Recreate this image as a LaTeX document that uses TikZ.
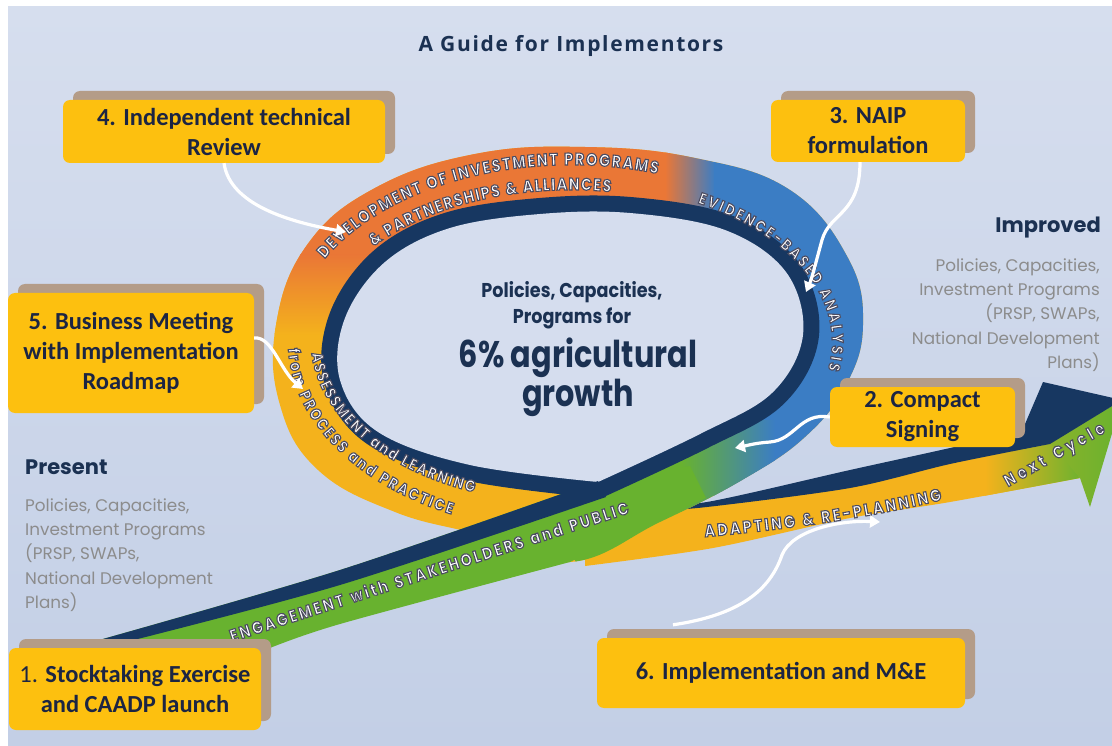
\documentclass[tikz,border=0pt]{standalone}
\usepackage{fontspec}
\usetikzlibrary{decorations.text,arrows.meta,shadows,calc}
\newfontfamily\boxfont{Carlito}
\newfontfamily\popfont{Poppins}
\newfontfamily\ctrA{Poppins}[FakeStretch=0.88]
\newfontfamily\ctrB{Poppins}[FakeStretch=0.82]
\newfontfamily\ringfam{Poppins}[FakeStretch=0.85]
\newfontfamily\titlefont{Open Sans}[LetterSpace=8]
\newcommand\outl{\color{white}\special{pdf:literal direct 0.30 0.30 0.38 RG 1.1 w 2 Tr}}
\definecolor{bgtop}{HTML}{D6DEEE}
\definecolor{bgbot}{HTML}{C3CFE6}
\definecolor{innerc}{HTML}{D5DDEE}
\definecolor{navy}{HTML}{173761}
\definecolor{ringorange}{HTML}{EA7736}
\definecolor{ringyellow}{HTML}{F4B21C}
\definecolor{ringblue}{HTML}{3B7DC4}
\definecolor{ribgreen}{HTML}{68B22F}
\definecolor{boxyellow}{HTML}{FDC00F}
\definecolor{boxshadow}{HTML}{B49C88}
\definecolor{boxtext}{HTML}{1C2543}
\definecolor{headnavy}{HTML}{1B3152}
\definecolor{graytext}{HTML}{8C8C8C}
\tikzset{
  stepbox/.style={rounded corners=7pt, fill=boxyellow, align=center, inner sep=0pt,
    font=\boxfont\bfseries\fontsize{24.5}{30}\selectfont, text=boxtext,
    general shadow={fill=boxshadow, shadow xshift=10pt, shadow yshift=9pt}},
  wlink/.style={draw=white, line width=3.2pt, -{Triangle[length=10pt,width=12pt]}},
  graylbl/.style={inner sep=0pt, font=\popfont\fontsize{16.8}{24.3}\selectfont, text=graytext},
  headlbl/.style={inner sep=0pt, font=\popfont\bfseries\fontsize{21}{21}\selectfont, text=headnavy}
}
\newcommand\ringtext[3][17]{%
  \path[decorate,decoration={text along path,text align=fit to path,
      text={|\ringfam\bfseries\fontsize{#1}{#1}\selectfont\outl|#3}}] #2;}
\def\lightpath{plot[smooth,tension=0.6] coordinates {(598,482) (700,434) (772,393) (803,335) (786,272) (725,230) (630,213) (540,214) (450,228) (385,262) (345,318) (340,380) (378,432) (470,465) (598,482)} -- cycle}
\begin{document}
\begin{tikzpicture}[x=1pt,y=-1pt]
\useasboundingbox (0,0) rectangle (1112,746);
\clip (0,0) rectangle (1112,746);
\fill[white] (0,0) rectangle (1112,746);
\shade[top color=bgtop,bottom color=bgbot] (8,7) rectangle (1112,746);

% outgoing yellow band
\begin{scope}
\clip plot[smooth] coordinates {(585,514) (707,506) (850,487) (950,463) (1052,441)} -- (1080,478)
  -- plot[smooth] coordinates {(1080,478) (950,502) (850,518) (713,548) (585,566)} -- cycle;
\fill[ringyellow] (560,420) rectangle (1112,600);
\shade[left color=ringyellow,right color=ribgreen] (985,420) rectangle (1085,600);
\end{scope}
% arrowhead (green part)
\shade[left color=ribgreen!75!ringyellow,right color=ribgreen] (1050,443) -- (1122,400) -- (1090,507) -- (1080,478) -- cycle;
% outgoing navy stripe and arrowhead
\fill[navy] plot[smooth] coordinates {(640,506) (707,502) (850,470) (950,448) (1022,431)} -- (1043,382) -- (1122,400) -- (1050,444)
  -- plot[smooth] coordinates {(1050,444) (950,464) (850,488) (707,507) (640,512)} -- cycle;

% ring coloured band
\begin{scope}
\clip plot[smooth cycle,tension=0.7] coordinates {(570,562) (660,522) (742,480) (805,437) (846,385) (863,325) (848,258) (790,190) (695,158) (585,147) (475,154) (375,188) (307,245) (276,325) (280,405) (318,470) (395,512) (480,535)};
\fill[ringyellow] (250,120) rectangle (900,600);
\fill[ringorange] (250,120) rectangle (670,256);
\shade[top color=ringorange,bottom color=ringyellow] (250,255) rectangle (670,335);
\shade[left color=ringorange,right color=ringblue] (665,120) rectangle (715,335);
\fill[ringblue] (714,120) rectangle (900,600);
\fill[ribgreen] (575,420) rectangle (682,600);
\shade[left color=ribgreen,right color=ringblue] (681,420) rectangle (775,600);
\end{scope}

% incoming green ribbon
\fill[ribgreen] plot[smooth] coordinates {(78,646) (340,570) (598,481)} -- (690,466) -- (706,498)
  -- plot[smooth] coordinates {(570,562) (340,624) (265,650)} -- (60,730) -- cycle;

% navy ring and inner area
\draw[navy,line width=32pt,line join=round] \lightpath;
\fill[innerc] \lightpath;
% navy edge of incoming ribbon
\fill[navy] plot[smooth] coordinates {(78,646) (340,570) (598,481)} -- plot[smooth] coordinates {(606,497) (340,585) (110,646)} -- cycle;

% texts on the ribbon
\ringtext{($(571,342)+(152:279pt and 177pt)$) arc[start angle=152,end angle=72,x radius=279pt,y radius=177pt]}{DEVELOPMENT OF INVESTMENT PROGRAMS}
\ringtext{($(571,342)+(141:254pt and 152pt)$) arc[start angle=141,end angle=81,x radius=254pt,y radius=152pt]}{{\&} PARTNERSHIPS {\&} ALLIANCES}
\ringtext[16]{($(571,342)+(61:261pt and 159pt)$) arc[start angle=61,end angle=-10,x radius=261pt,y radius=159pt]}{EVIDENCE-BASED ANALYSIS}
\ringtext[16]{($(571,342)+(184:260pt and 162pt)$) arc[start angle=184,end angle=248,x radius=260pt,y radius=162pt]}{ASSESSMENT and LEARNING}
\ringtext[16]{($(571,342)+(182:283pt and 190pt)$) arc[start angle=182,end angle=245,x radius=283pt,y radius=190pt]}{from PROCESS and PRACTICE}
\ringtext{(232,642) -- (630,513)}{ENGAGEMENT with STAKEHOLDERS and PUBLIC}
\ringtext{(705,537) .. controls (780,530) and (860,520) .. (942,500)}{ADAPTING {\&} RE-PLANNING}
\ringtext{(1008,487) -- (1106,432)}{Next Cycle}

% centre text
\node[font=\ctrA\bfseries\fontsize{20}{26}\selectfont,text=headnavy,align=center,inner sep=0pt] (c1) at (572,305) {Policies, Capacities,\\Programs for};
\node[font=\ctrB\bfseries\fontsize{37}{37}\selectfont,text=headnavy,align=center,inner sep=0pt] (c2) at (578,377) {6\% agricultural\\growth};

% title and side labels
\node[font=\titlefont\bfseries\fontsize{21}{21}\selectfont,text=headnavy,inner sep=0pt] (title) at (571,46) {A Guide for Implementors};
\node[headlbl,anchor=east] (improved) at (1101,228) {Improved};
\node[graylbl,anchor=east,align=right] (imptxt) at (1100,315) {Policies, Capacities,\\Investment Programs\\(PRSP, SWAPs,\\National Development\\Plans)};
\node[headlbl,anchor=west] (present) at (25,467) {Present};
\node[graylbl,anchor=west,align=left] (prestxt) at (25,555) {Policies, Capacities,\\Investment Programs\\(PRSP, SWAPs,\\National Development\\Plans)};

% step boxes
\node[stepbox,minimum width=322pt,minimum height=63pt] (b4) at (224,131.5) {4. Independent technical\\Review};
\node[stepbox,minimum width=194pt,minimum height=62pt] (b3) at (868,131) {3. NAIP\\formulation};
\node[stepbox,minimum width=246pt,minimum height=120pt] (b5) at (131,353) {5. Business Meeting\\with Implementation\\Roadmap};
\node[stepbox,minimum width=185pt,minimum height=60pt] (b2) at (922.5,417) {2. Compact\\Signing};
\node[stepbox,minimum width=252pt,minimum height=82pt] (b1) at (135,689) {{\mdseries 1.} Stocktaking Exercise\\and CAADP launch};
\node[stepbox,minimum width=368pt,minimum height=70pt] (b6) at (781,673) {6. Implementation and M\&E};

% connector end points
\coordinate (e4) at (346,232);
\coordinate (e5) at (303,389);
\coordinate (e3) at (806,292);
\coordinate (e2) at (735,448);
\coordinate (e6) at (880,522);

\draw[wlink] (b4.south) .. controls (230,205) and (290,222) .. (e4);
\draw[wlink] ([yshift=15pt]b5.east) .. controls (272,336) and (280,370) .. (e5);
\draw[wlink] ([xshift=-8pt]b3.south) .. controls (860,215) and (830,212) .. (822,240) .. controls (816,262) and (812,278) .. (e3);
\draw[wlink] (b2.west) .. controls (800,412) and (795,440) .. (770,442) .. controls (755,443) and (745,446) .. (e2);
\draw[wlink] ([xshift=-108pt,yshift=13pt]b6.north) .. controls (740,615) and (770,590) .. (782,555) .. controls (792,530) and (840,520) .. (e6);
\end{tikzpicture}
\end{document}
